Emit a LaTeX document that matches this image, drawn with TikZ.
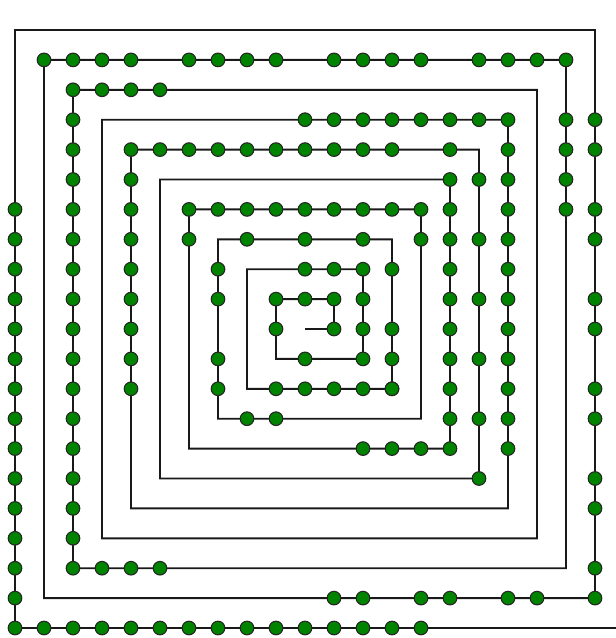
\documentclass[tikz,border=0pt]{standalone}
\definecolor{dotgreen}{RGB}{0,132,0}
\begin{document}
\begin{tikzpicture}[x=1pt,y=-1pt,
  dotnode/.style={circle,draw=black!85,line width=1.1pt,fill=dotgreen,minimum size=13.6pt,inner sep=0pt},
  spiral/.style={draw=black!90,line width=1.9pt,line join=miter}]
\useasboundingbox (0,0) rectangle (616,638);
\foreach \c in {0,...,20}
  \foreach \r in {0,...,20}
    \coordinate (g-\c-\r) at ({15+29*\c},{30+29.9*\r});
\coordinate (tail) at (616,628);
\draw[spiral] (g-10-10) -- (g-11-10) -- (g-11-9) -- (g-9-9) -- (g-9-11) -- (g-12-11)
  -- (g-12-8) -- (g-8-8) -- (g-8-12) -- (g-13-12) -- (g-13-7) -- (g-7-7) -- (g-7-13)
  -- (g-14-13) -- (g-14-6) -- (g-6-6) -- (g-6-14) -- (g-15-14) -- (g-15-5) -- (g-5-5)
  -- (g-5-15) -- (g-16-15) -- (g-16-4) -- (g-4-4) -- (g-4-16) -- (g-17-16) -- (g-17-3)
  -- (g-3-3) -- (g-3-17) -- (g-18-17) -- (g-18-2) -- (g-2-2) -- (g-2-18) -- (g-19-18)
  -- (g-19-1) -- (g-1-1) -- (g-1-19) -- (g-20-19) -- (g-20-0) -- (g-0-0) -- (g-0-20)
  -- (tail);
% dots
\foreach \c/\r in {1/1,2/1,3/1,4/1,6/1,7/1,8/1,9/1,11/1,12/1,13/1,14/1,16/1,17/1,18/1,19/1,
  19/3,19/4,19/5,19/6,
  20/3,20/4,20/6,20/7,20/9,20/10,20/12,20/13,20/15,20/16,20/18,20/19,
  11/19,12/19,14/19,15/19,17/19,18/19,
  3/18,4/18,5/18,
  3/2,4/2,5/2,
  15/4,16/5,16/7,16/9,16/11,16/13,16/15,15/5,
  12/14,13/14,14/14,
  6/6,6/7,14/7,8/13,9/13,
  7/8,7/9,7/11,7/12,8/7,10/7,12/7,
  13/8,13/10,13/11,13/12,
  10/8,11/8,12/8,12/9,12/10,12/11,10/11,9/9,9/10,10/9,11/9,11/10}
  \node[dotnode] (d-\c-\r) at (g-\c-\r) {};
\foreach \r in {6,...,20} \node[dotnode] (d-0-\r) at (g-0-\r) {};
\foreach \c in {1,...,14} \node[dotnode] (d-\c-20) at (g-\c-20) {};
\foreach \r in {2,...,18} \node[dotnode] (d-2-\r) at (g-2-\r) {};
\foreach \c in {10,...,17} \node[dotnode] (d-\c-3) at (g-\c-3) {};
\foreach \r in {4,...,14} \node[dotnode] (d-17-\r) at (g-17-\r) {};
\foreach \r in {4,...,12} \node[dotnode] (d-4-\r) at (g-4-\r) {};
\foreach \c in {5,...,13} \node[dotnode] (d-\c-4) at (g-\c-4) {};
\foreach \r in {6,...,14} \node[dotnode] (d-15-\r) at (g-15-\r) {};
\foreach \c in {7,...,14} \node[dotnode] (d-\c-6) at (g-\c-6) {};
\foreach \c in {9,...,13} \node[dotnode] (d-\c-12) at (g-\c-12) {};
\end{tikzpicture}
\end{document}
